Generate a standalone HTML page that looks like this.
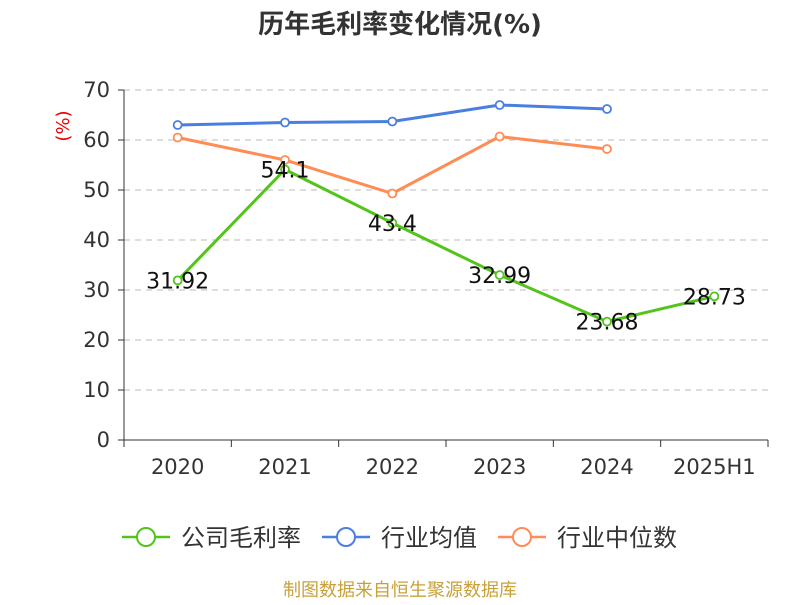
<!DOCTYPE html>
<html><head><meta charset="utf-8">
<style>
body{margin:0;background:#fff;}
svg text{font-family:"DejaVu Sans","Noto Sans CJK SC",sans-serif;}
</style></head>
<body>
<svg id="chart" width="800" height="600" xmlns="http://www.w3.org/2000/svg">
<text x="400" y="33" text-anchor="middle" font-size="26" font-weight="bold" fill="#333">历年毛利率变化情况(%)</text>
<text x="0" y="0" transform="translate(69,126) rotate(-90)" text-anchor="middle" font-size="18" fill="#e00">(%)</text>
<g id="grid"></g><g id="axes"></g><g id="series"></g>
<g>
 <g><line x1="122" y1="537" x2="170" y2="537" stroke="#52c41a" stroke-width="2.5"/><circle cx="146" cy="537" r="9" fill="#fff" stroke="#52c41a" stroke-width="2"/><text x="181" y="546" font-size="24" fill="#333">公司毛利率</text></g>
 <g><line x1="322" y1="537" x2="370" y2="537" stroke="#4a7fe0" stroke-width="2.5"/><circle cx="346" cy="537" r="9" fill="#fff" stroke="#4a7fe0" stroke-width="2"/><text x="381" y="546" font-size="24" fill="#333">行业均值</text></g>
 <g><line x1="498" y1="537" x2="546" y2="537" stroke="#ff8c55" stroke-width="2.5"/><circle cx="522" cy="537" r="9" fill="#fff" stroke="#ff8c55" stroke-width="2"/><text x="557" y="546" font-size="24" fill="#333">行业中位数</text></g>
</g>
<text x="400" y="596" text-anchor="middle" font-size="18" fill="#c9a13b">制图数据来自恒生聚源数据库</text>
</svg>
<script>
const categories=["2020","2021","2022","2023","2024","2025H1"];
const companyValues=[31.92,54.1,43.4,32.99,23.68,28.73];
const companyLabels=["31.92","54.1","43.4","32.99","23.68","28.73"];
const industryAvg=[63,63.5,63.7,67,66.2];
const industryMedian=[60.5,56,49.3,60.7,58.2];
const yTicks=[0,10,20,30,40,50,60,70];
const NS="http://www.w3.org/2000/svg";
const x0=124,x1=768,yBase=440,yTop=90,yMax=70;
const bw=(x1-x0)/categories.length;
const xs=i=>x0+bw*(i+0.5);
const ys=v=>yBase-(v/yMax)*(yBase-yTop);
function mk(tag,attrs,parent){const e=document.createElementNS(NS,tag);for(const k in attrs)e.setAttribute(k,attrs[k]);parent.appendChild(e);return e;}
const grid=document.getElementById('grid'),axes=document.getElementById('axes'),series=document.getElementById('series');
yTicks.forEach(t=>{
 if(t>0){const g=mk('line',{x1:x0,x2:x1,y1:ys(t),y2:ys(t),stroke:'#bbb','stroke-dasharray':'6,5'},grid);
 
 }
 const tk=mk('line',{x1:x0-6,x2:x0,y1:ys(t),y2:ys(t),stroke:'#333'},axes);
 
 
 const lb=mk('text',{x:x0-14,y:ys(t)+7,'text-anchor':'end','font-size':21,fill:'#333'},axes);lb.textContent=t;
 
 
});
const ya=mk('line',{x1:x0,x2:x0,y1:yTop,y2:yBase,stroke:'#333'},axes);


const xa=mk('line',{x1:x0,x2:x1,y1:yBase,y2:yBase,stroke:'#333'},axes);


for(let i=0;i<=categories.length;i++){const t=mk('line',{x1:x0+bw*i,x2:x0+bw*i,y1:yBase,y2:yBase+7,stroke:'#333'},axes);
 
 }
categories.forEach((c,i)=>{const t=mk('text',{x:xs(i),y:yBase+34,'text-anchor':'middle','font-size':21,fill:'#333'},axes);t.textContent=c;
 
 });
function drawLine(vals,color,name){
 const g=mk('g',{},series);
 
 
 mk('polyline',{points:vals.map((v,i)=>xs(i)+','+ys(v)).join(' '),fill:'none',stroke:color,'stroke-width':3},g);
 vals.forEach((v,i)=>{const p=mk('circle',{cx:xs(i),cy:ys(v),r:4,fill:'#fff',stroke:color,'stroke-width':1.8},g);
  
  });
 return g;
}
drawLine(industryAvg,'#4a7fe0','industry-avg-line');
drawLine(industryMedian,'#ff8c55','industry-median-line');
const cg=drawLine(companyValues,'#52c41a','company-margin-line');
companyValues.forEach((v,i)=>{const t=mk('text',{x:xs(i),y:ys(v)+8,'text-anchor':'middle','font-size':22,fill:'#111'},cg);t.textContent=companyLabels[i];
 
 });
</script>
</body></html>
